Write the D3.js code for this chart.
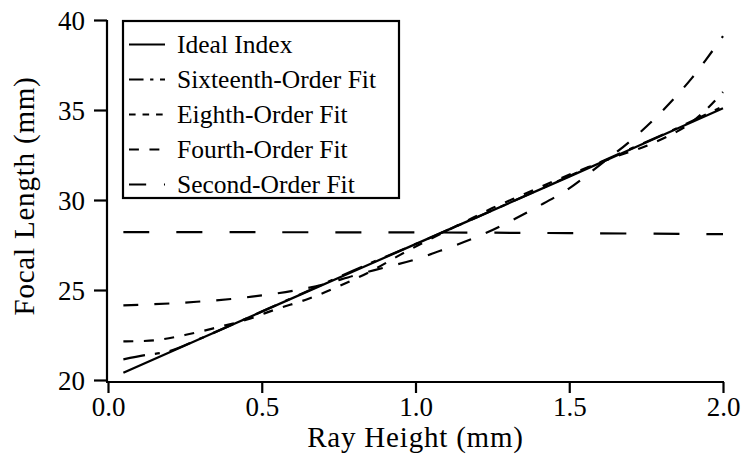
<!DOCTYPE html>
<html>
<head>
<meta charset="utf-8">
<script src="https://cdn.jsdelivr.net/npm/d3@7"></script>
<style>
  body{margin:0;background:#fff;}
  svg text{font-family:"Liberation Serif","Times New Roman","DejaVu Serif",Times,serif;}
</style>
</head>
<body>
<div id="chart"></div>
<script>
// values
const seriesNames=["Ideal Index","Sixteenth-Order Fit","Eighth-Order Fit","Fourth-Order Fit","Second-Order Fit"];
const idealX=[0.05,0.5,1.0,1.5,2.0];
const idealY=[20.4,23.8,27.55,31.3,35.1];
const sixteenthX=[0.05,0.12,0.2,0.3,0.5,0.8,1.0,1.3,1.6,1.8,1.95,2.0];
const sixteenthY=[21.15,21.38,21.6,22.3,23.8,26.1,27.55,29.8,32.1,33.6,34.8,35.2];
const eighthX=[0.05,0.15,0.25,0.35,0.45,0.55,0.65,0.75,0.85,0.95,1.05,1.15,1.25,1.35,1.45,1.55,1.65,1.75,1.85,1.9,1.95,2.0];
const eighthY=[22.15,22.2,22.5,22.9,23.35,23.95,24.5,25.2,26.0,26.95,27.85,28.7,29.55,30.3,31.05,31.75,32.4,33.0,33.8,34.35,35.1,36.0];
const fourthX=[0.05,0.2,0.4,0.5,0.6,0.7,0.8,0.9,1.0,1.1,1.2,1.3,1.4,1.5,1.6,1.7,1.8,1.9,2.0];
const fourthY=[24.15,24.25,24.5,24.7,24.95,25.3,25.8,26.25,26.7,27.3,27.95,28.75,29.65,30.65,31.95,33.3,34.9,36.8,39.1];
const secondX=[0.05,0.5,1.0,1.5,2.0];
const secondY=[28.22,28.21,28.2,28.16,28.1];
const xTicks=[0,0.5,1.0,1.5,2.0];
const yTicks=[20,25,30,35,40];

(function(){
  const W=743,H=462;
  const serif='"Liberation Serif","Times New Roman","DejaVu Serif",Times,serif';
  const svg=d3.select("#chart").append("svg").attr("width",W).attr("height",H);
  const x=d3.scaleLinear().domain([0,2]).range([108,723]);
  const y=d3.scaleLinear().domain([20,40]).range([380,20]);
  const ink="#000";

  const series=[
    {name:seriesNames[0],xs:idealX,ys:idealY,dash:null,w:2.3},
    {name:seriesNames[1],xs:sixteenthX,ys:sixteenthY,dash:[22,10,5,10],w:2.2},
    {name:seriesNames[2],xs:eighthX,ys:eighthY,dash:[10,10.5],w:2.2},
    {name:seriesNames[3],xs:fourthX,ys:fourthY,dash:[15,16],w:2.2},
    {name:seriesNames[4],xs:secondX,ys:secondY,dash:[26,27],w:2.2}
  ];

  // axes: y ticks point left, x ticks point down
  svg.append("g").attr("transform",`translate(${x(0)-1},0)`)
    .call(d3.axisLeft(y).tickValues(yTicks).tickSize(13).tickPadding(9).tickFormat(d3.format("d")))
    .call(s=>s.attr("font-family",null))
    .call(s=>s.select(".domain").attr("d",`M0,${y(40)}V${y(20)+2}`).attr("stroke-width",2.2))
    .call(s=>s.selectAll("line").attr("stroke-width",2.2))
    .call(s=>s.selectAll("text").attr("font-size",27).style("font-family",serif).attr("fill",ink).attr("dy","0.34em"));

  svg.append("g").attr("transform",`translate(0,${y(20)+2})`)
    .call(d3.axisBottom(x).tickValues(xTicks).tickSize(11).tickPadding(4).tickFormat(d3.format(".1f")))
    .call(s=>s.attr("font-family",null))
    .call(s=>s.select(".domain").attr("d",`M${x(0)-2},0H${x(2)+1}`).attr("stroke-width",2.2))
    .call(s=>s.selectAll("line").attr("stroke-width",2.2))
    .call(s=>s.selectAll("text").attr("font-size",27).style("font-family",serif).attr("fill",ink));

  svg.append("text")
    .attr("transform",`translate(34,${y(30)-4}) rotate(-90)`)
    .attr("text-anchor","middle").attr("font-size",29).attr("letter-spacing",0.8).attr("fill",ink)
    .style("font-family",serif)
    .text("Focal Length (mm)");
  svg.append("text")
    .attr("x",x(1)).attr("y",447)
    .attr("text-anchor","middle").attr("font-size",29).attr("letter-spacing",0.8).attr("fill",ink)
    .style("font-family",serif)
    .text("Ray Height (mm)");

  const line=d3.line().x(d=>x(d[0])).y(d=>y(d[1])).curve(d3.curveCatmullRom.alpha(0.5));
  svg.append("g").selectAll("path").data(series.slice().reverse()).join("path")
    .attr("d",s=>line(d3.zip(s.xs,s.ys)))
    .attr("fill","none").attr("stroke",ink)
    .attr("stroke-width",s=>s.w)
    .attr("stroke-dasharray",s=>s.dash?s.dash.join(","):null);

  // legend box, sample lines drawn at a shorter dash scale like the original
  const lg=svg.append("g");
  lg.append("rect").attr("x",123).attr("y",21).attr("width",276).attr("height",177)
    .attr("fill","#fff").attr("stroke",ink).attr("stroke-width",2.2);
  const row=d3.scaleBand().domain(seriesNames).range([27,202]);
  const items=lg.selectAll(".item").data(series).join("g")
    .attr("transform",s=>`translate(0,${row(s.name)+row.bandwidth()/2})`);
  items.append("line").attr("x1",129).attr("x2",165).attr("y1",0).attr("y2",0)
    .attr("stroke",ink).attr("stroke-width",2.2)
    .attr("stroke-dasharray",s=>s.dash?s.dash.map(v=>v*0.66).join(","):null);
  items.append("text").attr("x",177).attr("y",0).attr("dy","0.34em")
    .attr("font-size",25.5).attr("fill",ink).style("font-family",serif).text(s=>s.name);
})();
</script>
</body>
</html>
